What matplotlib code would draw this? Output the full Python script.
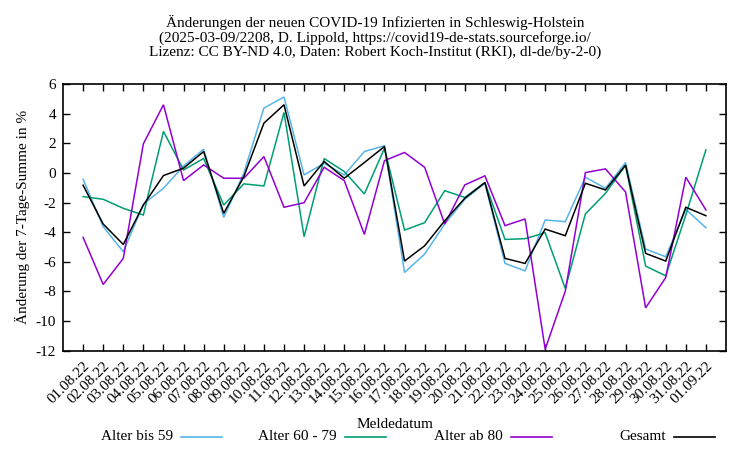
import matplotlib
matplotlib.use("Agg")
import matplotlib.pyplot as plt
from matplotlib.lines import Line2D

dates = ["01.08.22", "02.08.22", "03.08.22", "04.08.22", "05.08.22", "06.08.22",
         "07.08.22", "08.08.22", "09.08.22", "10.08.22", "11.08.22", "12.08.22",
         "13.08.22", "14.08.22", "15.08.22", "16.08.22", "17.08.22", "18.08.22",
         "19.08.22", "20.08.22", "21.08.22", "22.08.22", "23.08.22", "24.08.22",
         "25.08.22", "26.08.22", "27.08.22", "28.08.22", "29.08.22", "30.08.22",
         "31.08.22", "01.09.22"]

bis59 = [-0.43, -3.63, -5.32, -2.10, -1.04, 0.47, 1.60, -3.00, -0.02, 4.38, 5.12,
         -0.14, 0.65, -0.14, 1.44, 1.83, -6.72, -5.48, -3.45, -1.78, -0.70, -6.11,
         -6.61, -3.18, -3.29, -0.29, -1.04, 0.70, -5.14, -5.66, -2.46, -3.70]
a60_79 = [-1.60, -1.78, -2.39, -2.84, 2.80, 0.20, 0.97, -2.17, -0.74, -0.88, 4.08,
          -4.31, 0.97, 0.09, -1.42, 1.66, -3.86, -3.36, -1.20, -1.66, -0.65, -4.49,
          -4.44, -4.04, -7.80, -2.77, -1.38, 0.52, -6.29, -6.95, -2.84, 1.56]
ab80 = [-4.35, -7.53, -5.77, 1.96, 4.60, -0.52, 0.54, -0.36, -0.36, 1.10, -2.32,
        -2.01, 0.38, -0.52, -4.15, 0.83, 1.38, 0.38, -3.45, -0.81, -0.20, -3.56,
        -3.11, -11.90, -7.98, 0.02, 0.27, -1.29, -9.11, -7.06, -0.29, -2.50]
gesamt = [-0.83, -3.45, -4.83, -2.17, -0.18, 0.32, 1.44, -2.73, -0.25, 3.36, 4.60,
          -0.88, 0.77, -0.36, 0.70, 1.78, -5.95, -4.92, -3.23, -1.71, -0.65, -5.77,
          -6.11, -3.79, -4.24, -0.70, -1.15, 0.52, -5.43, -5.95, -2.32, -2.89]

labels = ["Alter bis 59", "Alter 60 - 79", "Alter ab 80", "Gesamt"]
colors = ["#56b4e9", "#009e73", "#9400d3", "#000000"]
yticks = [6, 4, 2, 0, -2, -4, -6, -8, -10, -12]

plt.rcParams['font.family'] = ['Liberation Serif', 'DejaVu Serif']

fig = plt.figure(figsize=(7.5, 4.5), dpi=100)
ax = fig.add_axes([63 / 750, 1 - 350.7 / 450, (726 - 63) / 750, (350.7 - 84) / 450])

x = list(range(len(dates)))
for series, c in zip([bis59, a60_79, ab80, gesamt], colors):
    ax.plot(x, series, color=c, lw=1.1, solid_joinstyle='miter')

ax.set_xlim(-1, len(dates))
ax.set_ylim(-12, 6)
ax.set_yticks(yticks)
ax.set_yticklabels([str(v) for v in yticks])
ax.set_xticks(x)
ax.set_xticklabels(dates, rotation=45, ha='right', va='top', rotation_mode='anchor')
ax.tick_params(direction='in', top=True, right=True, length=5, width=1, labelsize=11)
ax.tick_params(axis='x', pad=6)
ax.tick_params(axis='y', labelright=False, pad=5)
for s in ax.spines.values():
    s.set_linewidth(1.2)

ax.set_ylabel("Änderung der 7-Tage-Summe in %", fontsize=11, labelpad=4)
fig.text(0.5 * (63 + 726) / 750, 1 - 424 / 450, "Meldedatum", ha='center', va='center', fontsize=11)

fig.text(0.5, 1 - 37 / 450,
         "Änderungen der neuen COVID-19 Infizierten in Schleswig-Holstein\n"
         "(2025-03-09/2208, D. Lippold, https://covid19-de-stats.sourceforge.io/\n"
         "Lizenz: CC BY-ND 4.0, Daten: Robert Koch-Institut (RKI), dl-de/by-2-0)",
         ha='center', va='center', fontsize=11, linespacing=1.08)

# legend (gnuplot style: text right-aligned, sample to the right)
line_ends = [222, 386, 552, 715]
ly = 1 - 437 / 450
for lab, c, xe in zip(labels, colors, line_ends):
    fig.text((xe - 49) / 750, ly, lab, ha='right', va='center', fontsize=11)
    fig.add_artist(Line2D([(xe - 41) / 750, xe / 750], [ly, ly], color=c, lw=1.2,
                          transform=fig.transFigure))

fig.savefig("out.png", dpi=100)
